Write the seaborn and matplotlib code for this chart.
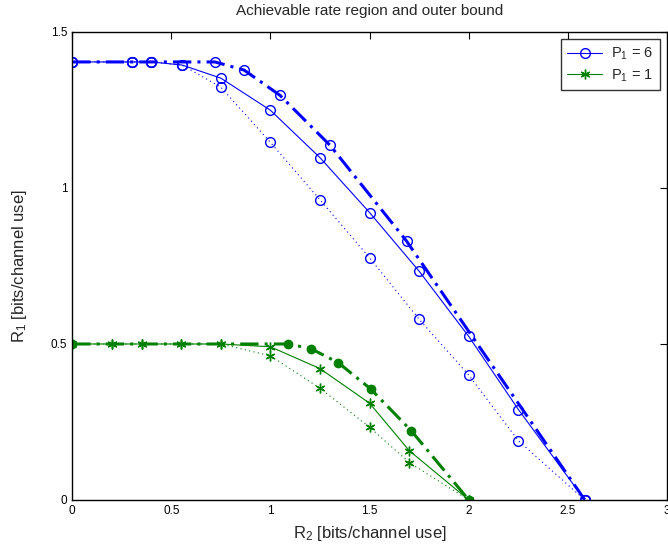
import matplotlib
matplotlib.use("Agg")
import matplotlib.pyplot as plt
import seaborn as sns
import pandas as pd

# ---- data ----
# P1 = 6 (blue)
b_solid_x = [0, 0.3, 0.4, 0.555, 0.75, 1.0, 1.25, 1.5, 1.75, 2.0, 2.25, 2.585]
b_solid_y = [1.404, 1.404, 1.404, 1.394, 1.352, 1.249, 1.097, 0.921, 0.733, 0.524, 0.29, 0.0]
b_dot_x = [0, 0.3, 0.4, 0.555, 0.75, 1.0, 1.25, 1.5, 1.75, 2.0, 2.25, 2.585]
b_dot_y = [1.404, 1.404, 1.404, 1.394, 1.323, 1.146, 0.962, 0.776, 0.579, 0.40, 0.19, 0.0]
b_bound_x = [0, 0.3, 0.4, 0.72, 0.867, 1.048, 1.30, 1.686, 2.585]
b_bound_y = [1.404, 1.404, 1.404, 1.404, 1.378, 1.297, 1.137, 0.830, 0.0]
# P1 = 1 (green)
g_solid_x = [0, 0.2, 0.35, 0.55, 0.75, 1.0, 1.25, 1.5, 1.7, 2.0]
g_solid_y = [0.5, 0.5, 0.5, 0.5, 0.5, 0.491, 0.421, 0.31, 0.158, 0.0]
g_dot_x = [0, 0.2, 0.35, 0.55, 0.75, 1.0, 1.25, 1.5, 1.7, 2.0]
g_dot_y = [0.5, 0.5, 0.5, 0.5, 0.5, 0.462, 0.358, 0.233, 0.12, 0.0]
g_bound_x = [0, 1.09, 1.204, 1.342, 1.505, 1.711, 2.0]
g_bound_y = [0.5, 0.5, 0.485, 0.44, 0.356, 0.221, 0.0]

legend_labels = ["P$_1$ = 6", "P$_1$ = 1"]
x_ticks = [0, 0.5, 1, 1.5, 2, 2.5, 3]
x_tick_labels = ["0", "0.5", "1", "1.5", "2", "2.5", "3"]
y_ticks = [0, 0.5, 1, 1.5]
y_tick_labels = ["0", "0.5", "1", "1.5"]

sns.set_style("white")
plt.rcParams['font.family'] = ['Liberation Sans', 'DejaVu Sans']
plt.rcParams['mathtext.fontset'] = 'custom'
plt.rcParams['mathtext.rm'] = 'Liberation Sans'
plt.rcParams['mathtext.it'] = 'Liberation Sans'

fig = plt.figure(figsize=(6.68, 5.45), dpi=100)
ax = fig.add_axes([0.108, 0.0826, 0.8907, 0.8587])

BLUE = "#0000FF"
GREEN = "#008000"
ast = (6, 2, 0)

def draw(x, y, color, ls, lw, marker, ms, mfc, label=None, mew=1.0):
    df = pd.DataFrame({"x": x, "y": y})
    sns.lineplot(data=df, x="x", y="y", ax=ax, sort=False, estimator=None,
                 color=color, linestyle=ls, linewidth=lw, marker=marker,
                 markersize=ms, markerfacecolor=mfc, markeredgecolor=color,
                 markeredgewidth=mew, label=label, legend=False)

# blue
draw(b_bound_x, b_bound_y, BLUE, (0, (6, 2, 1, 2)), 2.2, "o", 7, "none")
draw(b_dot_x, b_dot_y, BLUE, (0, (1, 3)), 0.8, "o", 7, "none")
draw(b_solid_x, b_solid_y, BLUE, "-", 0.8, "o", 7, "none", label=legend_labels[0])
# green
draw(g_bound_x, g_bound_y, GREEN, (0, (6, 2, 1, 2)), 2.2, "o", 6, GREEN)
draw(g_dot_x, g_dot_y, GREEN, (0, (1, 3)), 0.8, ast, 7, GREEN)
draw(g_solid_x, g_solid_y, GREEN, "-", 0.8, ast, 7, GREEN, label=legend_labels[1])

ax.set_xlim(0, 3)
ax.set_ylim(0, 1.5)
ax.set_xticks(x_ticks)
ax.set_xticklabels(x_tick_labels)
ax.set_yticks(y_ticks)
ax.set_yticklabels(y_tick_labels)
ax.tick_params(direction="in", length=5, width=0.8, labelsize=8.5, top=True, right=True,
               colors="black")
for s in ax.spines.values():
    s.set_visible(True)
    s.set_color("black")
    s.set_linewidth(1.0)

ax.set_xlabel("R$_2$ [bits/channel use]", fontsize=12, labelpad=5)
ax.set_ylabel("R$_1$ [bits/channel use]", fontsize=12, labelpad=16)
ax.set_title("Achievable rate region and outer bound", fontsize=11, pad=12)

handles, labels = ax.get_legend_handles_labels()
leg = ax.legend(handles[-2:], labels[-2:], loc="upper right", fontsize=10.5, frameon=True,
                fancybox=False, edgecolor="black", handlelength=2.4, borderpad=0.45,
                labelspacing=0.35, borderaxespad=0.5, handletextpad=0.6)
leg.get_frame().set_linewidth(1.0)

fig.savefig("out.png", dpi=100)
